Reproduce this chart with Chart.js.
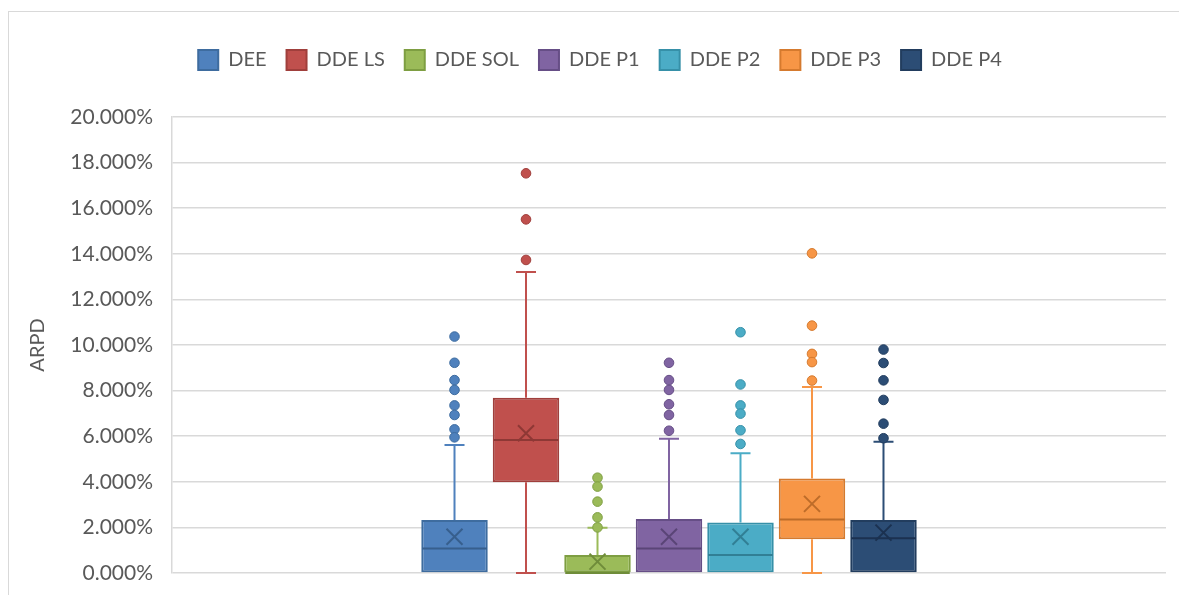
<!DOCTYPE html>
<html>
<head>
<meta charset="utf-8">
<script src="https://cdn.jsdelivr.net/npm/chart.js@4/dist/chart.umd.min.js"></script>
<style>
  html, body { margin: 0; padding: 0; background: #ffffff; overflow: hidden; }
  #frame { position: absolute; left: 8px; top: 11px; width: 1300px; height: 800px;
           border: 1px solid #d9d9d9; box-sizing: border-box; }
  #wrap { position: absolute; left: 0; top: 0; width: 1179px; height: 595px; }
</style>
</head>
<body>
<div id="frame"></div>
<div id="wrap"><canvas id="c" width="1179" height="595"></canvas></div>
<script>
// Series names (one box per series)
const seriesNames = ['DEE', 'DDE LS', 'DDE SOL', 'DDE P1', 'DDE P2', 'DDE P3', 'DDE P4'];

// Box statistics, in percent
const q1          = [0.00, 3.98, 0.00, 0.00, 0.00, 1.48, 0.00];
const median      = [1.08, 5.83, 0.00, 1.08, 0.79, 2.35, 1.52];
const q3          = [2.32, 7.69, 0.79, 2.37, 2.22, 4.15, 2.32];
const mean        = [1.59, 6.13, 0.50, 1.59, 1.59, 3.03, 1.77];
const whiskerLow  = [0.00, 0.00, 0.00, 0.00, 0.00, 0.00, 0.00];
const whiskerHigh = [5.61, 13.20, 1.99, 5.89, 5.25, 8.16, 5.76];

// Outlying points per series, in percent
const outDEE   = [10.37, 9.22, 8.46, 8.03, 7.35, 6.93, 6.30, 5.95];
const outDDELS = [17.53, 15.51, 13.73];
const outDDESOL = [4.18, 3.79, 3.13, 2.44, 2.00];
const outDDEP1 = [9.22, 8.46, 8.03, 7.40, 6.93, 6.24];
const outDDEP2 = [10.56, 8.27, 7.35, 6.99, 6.26, 5.66];
const outDDEP3 = [14.02, 10.85, 9.61, 9.25, 8.44];
const outDDEP4 = [9.80, 9.21, 8.45, 7.59, 6.55, 5.91];
const outliers = [outDEE, outDDELS, outDDESOL, outDDEP1, outDDEP2, outDDEP3, outDDEP4];

// Axis ticks
const yMin = 0, yMax = 20, yStep = 2;

// Colours: fill, outline, dark accent (median / mean)
const fills   = ['#4F81BD', '#C0504D', '#9BBB59', '#8064A2', '#4BACC6', '#F79646', '#2C4D75'];
const borders = ['#3E6C9F', '#A03F3C', '#7E9E42', '#664E86', '#3690A8', '#D57A2E', '#223D5E'];
const darks   = ['#375F8D', '#8E3835', '#6F8C3A', '#5A4577', '#317F95', '#BD6C29', '#1B3150'];

const FONT = 'Lato, "Open Sans", "DejaVu Sans", sans-serif';
const TEXT = '#595959';
const GRID = '#d9d9d9';

const datasets = seriesNames.map((name, i) => ({
  label: name,
  data: [[q1[i], q3[i]]],
  backgroundColor: fills[i],
  borderColor: borders[i],
  borderWidth: 2,
  borderSkipped: false,
  categoryPercentage: 0.5035,
  barPercentage: 0.93
}));

// Whiskers, medians, means and outliers, placed from each box element and the y scale
const boxExtras = {
  id: 'boxExtras',
  beforeDatasetsDraw(chart) {
    const ctx = chart.ctx, ys = chart.scales.y;
    ctx.save();
    datasets.forEach((ds, i) => {
      const el = chart.getDatasetMeta(i).data[0];
      if (!el) return;
      const x = el.x, cap = 10;
      ctx.strokeStyle = fills[i];
      ctx.lineWidth = 2;
      // upper whisker
      if (whiskerHigh[i] > q3[i]) {
        const yt = ys.getPixelForValue(whiskerHigh[i]);
        ctx.beginPath();
        ctx.moveTo(x, ys.getPixelForValue(q3[i]));
        ctx.lineTo(x, yt);
        ctx.moveTo(x - cap, yt);
        ctx.lineTo(x + cap, yt);
        ctx.stroke();
      }
      // lower whisker
      if (whiskerLow[i] < q1[i]) {
        const yb = ys.getPixelForValue(whiskerLow[i]);
        ctx.beginPath();
        ctx.moveTo(x, ys.getPixelForValue(q1[i]));
        ctx.lineTo(x, yb);
        ctx.moveTo(x - cap, yb);
        ctx.lineTo(x + cap, yb);
        ctx.stroke();
      }
    });
    ctx.restore();
  },
  afterDatasetsDraw(chart) {
    const ctx = chart.ctx, ys = chart.scales.y;
    ctx.save();
    datasets.forEach((ds, i) => {
      const el = chart.getDatasetMeta(i).data[0];
      if (!el) return;
      const x = el.x, half = el.width / 2;
      // median line
      const ym = ys.getPixelForValue(median[i]);
      ctx.strokeStyle = darks[i];
      ctx.lineWidth = 2;
      ctx.beginPath();
      ctx.moveTo(x - half + 1, ym);
      ctx.lineTo(x + half - 1, ym);
      ctx.stroke();
      // mean marker (x)
      const ya = ys.getPixelForValue(mean[i]);
      const s = 8;
      ctx.lineWidth = 2;
      ctx.beginPath();
      ctx.moveTo(x - s, ya - s);
      ctx.lineTo(x + s, ya + s);
      ctx.moveTo(x + s, ya - s);
      ctx.lineTo(x - s, ya + s);
      ctx.stroke();
      // outliers
      ctx.fillStyle = fills[i];
      ctx.strokeStyle = borders[i];
      ctx.lineWidth = 1;
      outliers[i].forEach(v => {
        ctx.beginPath();
        ctx.arc(x, ys.getPixelForValue(v), 4.8, 0, Math.PI * 2);
        ctx.fill();
        ctx.stroke();
      });
    });
    ctx.restore();
  }
};

new Chart(document.getElementById('c'), {
  type: 'bar',
  data: { labels: ['ARPD'], datasets },
  options: {
    responsive: false,
    animation: false,
    layout: { padding: { top: 30, left: 34, right: 13, bottom: 22 } },
    plugins: {
      tooltip: { enabled: false },
      legend: {
        position: 'top',
        labels: {
          boxWidth: 20,
          boxHeight: 20,
          padding: 20,
          color: TEXT,
          font: { family: FONT, size: 20 }
        }
      }
    },
    scales: {
      x: {
        position: 'top',
        grid: { display: false },
        border: { display: false },
        ticks: { display: false },
        afterFit(scale) { scale.height = 37; }
      },
      y: {
        min: yMin,
        max: yMax,
        ticks: {
          stepSize: yStep,
          padding: 19,
          color: TEXT,
          font: { family: FONT, size: 21 },
          callback: v => v.toFixed(3) + '%'
        },
        grid: { color: GRID, lineWidth: 1.5, drawTicks: false },
        border: { display: true, color: GRID, width: 1.5 },
        title: {
          display: true,
          text: 'ARPD',
          color: TEXT,
          font: { family: FONT, size: 20, lineHeight: 1 },
          padding: { top: -6, bottom: 0 }
        },
        afterFit(scale) {
          scale.width = 138;
          scale.paddingTop = 12;
          scale.paddingBottom = 12;
        }
      }
    }
  },
  plugins: [boxExtras]
});
</script>
</body>
</html>
